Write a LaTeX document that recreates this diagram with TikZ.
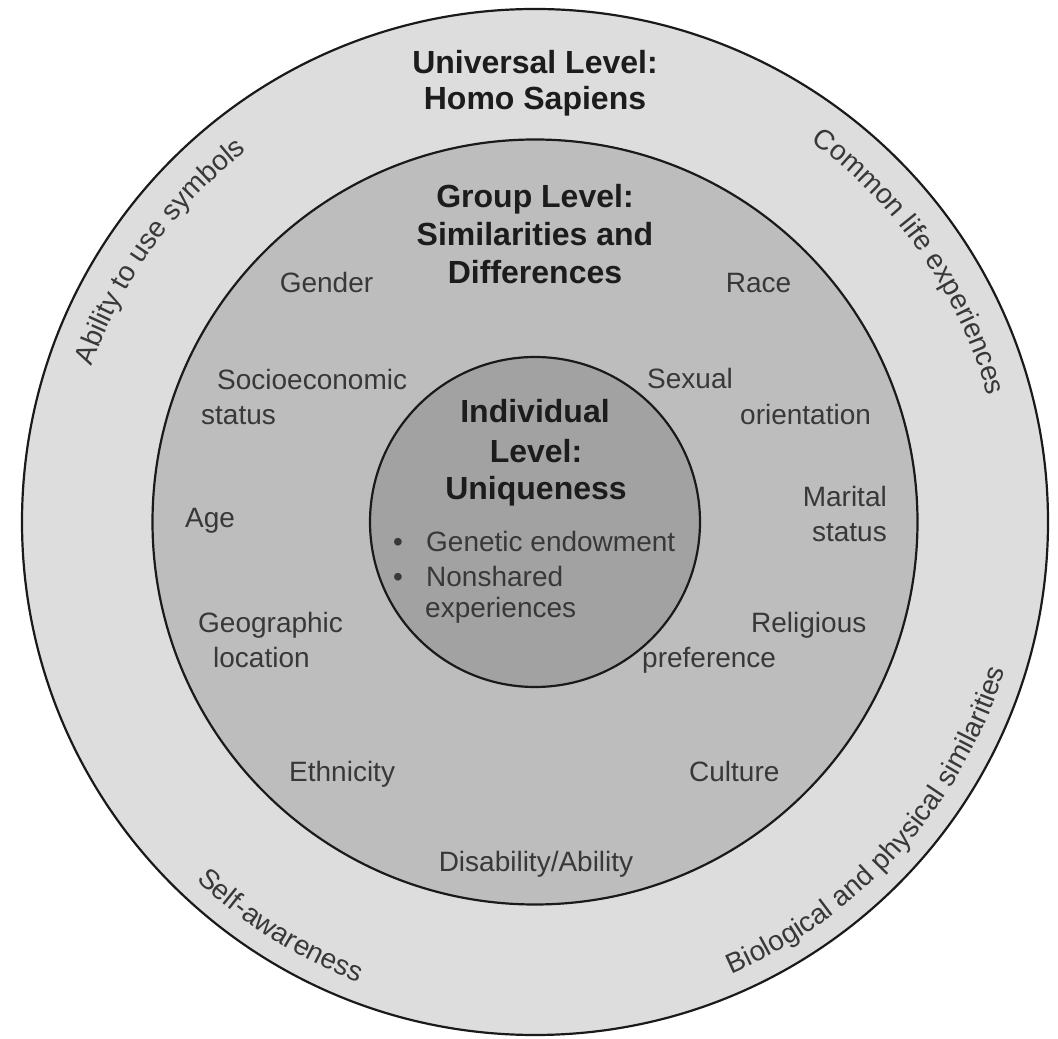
\documentclass[tikz,border=0pt]{standalone}
\usepackage{fontspec}
\setmainfont{Liberation Sans}
\usetikzlibrary{decorations.text}
\definecolor{ringouter}{HTML}{DDDDDD}
\definecolor{ringmid}{HTML}{BDBDBD}
\definecolor{ringinner}{HTML}{A2A2A2}
\definecolor{txtgray}{HTML}{383838}
\definecolor{txtdark}{HTML}{1C1C1C}
\definecolor{edge}{HTML}{1A1A1A}
\tikzset{
  lbl/.style={font=\fontsize{28}{34}\selectfont, text=txtgray, inner sep=0pt},
  ttl/.style={font=\fontsize{32}{38}\selectfont\bfseries, text=txtdark, inner sep=0pt},
  ring/.style={draw=edge, line width=2.2pt},
  arctext/.style={decorate, decoration={text along path, text align=center, text color=txtgray, text={|\fontsize{28}{34}\selectfont|#1}}}
}
\begin{document}
\begin{tikzpicture}[x=1pt,y=1pt]
\useasboundingbox (0,0) rectangle (1058,1039);
\coordinate (C) at (535,517);
% rings
\draw[ring, fill=ringouter] (C) circle[radius=513];
\draw[ring, fill=ringmid] (C) circle[radius=382.5];
\draw[ring, fill=ringinner] (C) circle[radius=165];
% curved texts (outer ring)
\path[arctext={Ability to use symbols}] ([shift={(535,517)}]174.25:470) arc[start angle=174.25, end angle=114.25, radius=470];
\path[arctext={Common life experiences}] ([shift={(535,517)}]64.8:470) arc[start angle=64.8, end angle=4.8, radius=470];
\path[arctext={Self-awareness}] ([shift={(535,517)}]207.8:493) arc[start angle=207.8, end angle=267.8, radius=493];
\path[arctext={Biological and physical similarities}] ([shift={(535,517)}]283:493) arc[start angle=283, end angle=353, radius=493];
% universal level
\node[ttl, anchor=base] (u1) at (535,965) {Universal Level:};
\node[ttl, anchor=base] (u2) at (535,929) {Homo Sapiens};
% group level
\node[ttl, anchor=base] (g1) at (535,831) {Group Level:};
\node[ttl, anchor=base] (g2) at (535,793) {Similarities and};
\node[ttl, anchor=base] (g3) at (535,755) {Differences};
\node[lbl, anchor=base] (gender) at (326.5,746) {Gender};
\node[lbl, anchor=base] (race) at (758.5,746) {Race};
\node[lbl, anchor=base west] (socio1) at (217,649) {Socioeconomic};
\node[lbl, anchor=base west] (socio2) at (201,614) {status};
\node[lbl, anchor=base west] (sex1) at (647,650) {Sexual};
\node[lbl, anchor=base west] (sex2) at (740,614) {orientation};
\node[lbl, anchor=base west] (age) at (185,511) {Age};
\node[lbl, anchor=base east] (mar1) at (887,532) {Marital};
\node[lbl, anchor=base east] (mar2) at (887,497) {status};
\node[lbl, anchor=base west] (geo1) at (198,406) {Geographic};
\node[lbl, anchor=base west] (geo2) at (213,371) {location};
\node[lbl, anchor=base west] (rel1) at (751,406) {Religious};
\node[lbl, anchor=base west] (rel2) at (642,371) {preference};
\node[lbl, anchor=base west] (eth) at (289,257) {Ethnicity};
\node[lbl, anchor=base west] (cult) at (689,257) {Culture};
\node[lbl, anchor=base] (dis) at (536,167) {Disability/Ability};
% individual level
\node[ttl, anchor=base] (i1) at (535,616) {Individual};
\node[ttl, anchor=base] (i2) at (536,576) {Level:};
\node[ttl, anchor=base] (i3) at (536,539) {Uniqueness};
\node[lbl, anchor=base] (b1) at (398,487) {•};
\node[lbl, anchor=base] (b2) at (398,452) {•};
\node[lbl, anchor=base west] (gen) at (426,487) {Genetic endowment};
\node[lbl, anchor=base west] (ns1) at (426,452) {Nonshared};
\node[lbl, anchor=base west] (ns2) at (425,421) {experiences};
\end{tikzpicture}
\end{document}
